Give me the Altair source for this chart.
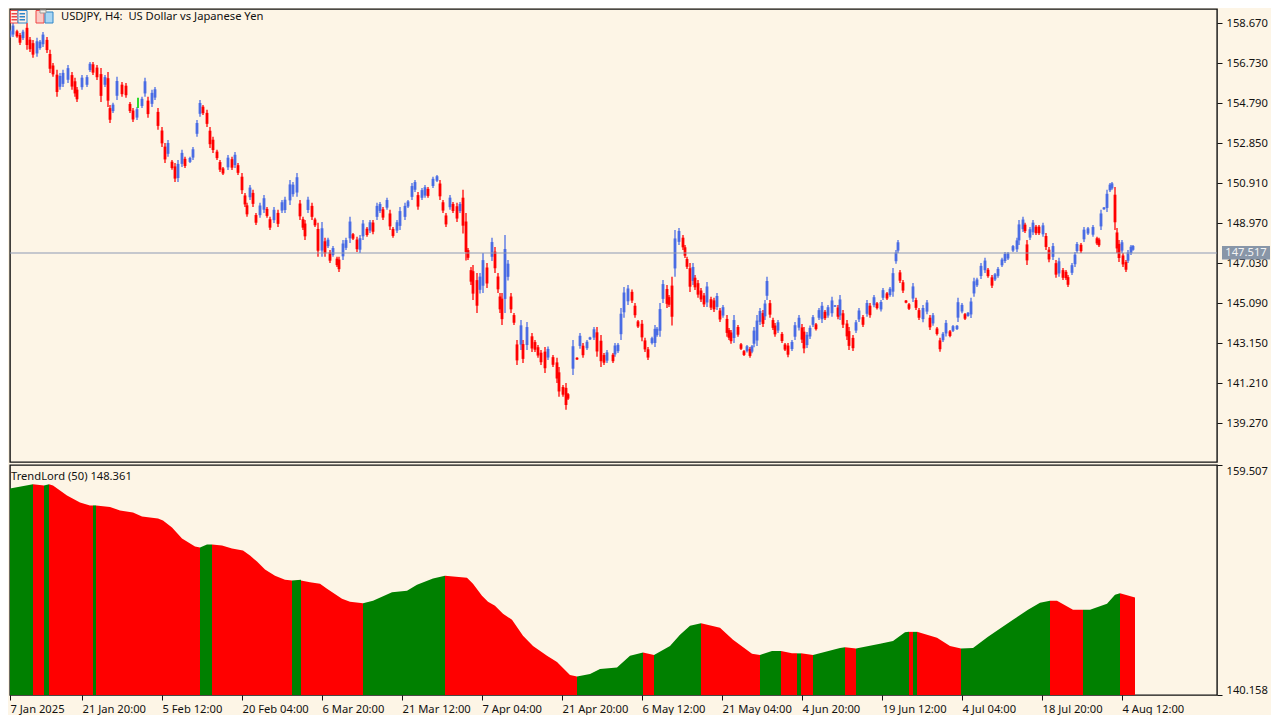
import altair as alt
import pandas as pd

FONT = "Noto Sans"
PAPER = "#FDF5E6"
INK = "#111111"

# ---- main panel: H4 candles (bar number, high, low)
bars = [1,5,8,11,15,18,21,25,28,31,35,38,41,45,48,51,55,58,61,66,70,73,75,80,85,88,91,95,99,103,106,108,111,115,120,124,128,131,135,140,143,146,150,153,156,160,163,166,170,173,176,180,183,188,191,195,198,201,205,208,211,215,218,221,226,230,233,236,240,243,245,248,251,254,258,262,265,268,272,276,280,283,288,291,295,298,301,303,306,310,313,316,320,323,326,328,331,335,337,341,344,348,351,355,358,361,365,368,371,375,378,381,385,388,391,395,398,403,406,410,413,416,420,423,426,431,435,438,441,444,448,451,455,458,461,464,466,469,471,475,478,481,485,490,493,496,498,500,503,506,509,512,515,519,521,525,530,533,536,539,543,546,551,555,557,561,564,566,569,571,575,578,581,585,588,592,595,599,602,605,611,613,616,619,622,626,630,633,636,640,643,646,650,653,655,658,661,665,667,670,673,677,681,683,685,688,691,693,696,699,702,705,709,712,715,718,721,725,727,729,732,736,739,742,745,748,750,752,755,758,761,763,765,768,771,773,776,780,783,786,790,793,797,800,802,805,808,811,814,817,820,823,826,830,833,836,838,841,845,847,851,854,857,861,865,868,872,875,879,881,885,888,891,894,896,898,901,904,907,911,914,917,921,925,928,931,935,938,941,944,948,951,955,956,960,963,966,969,972,975,979,983,986,990,993,996,1000,1003,1006,1011,1015,1017,1021,1023,1025,1028,1031,1034,1037,1041,1044,1047,1051,1054,1057,1061,1064,1066,1070,1073,1075,1079,1082,1086,1091,1095,1097,1099,1102,1105,1108,1110,1113,1115,1117,1120,1121,1124,1126,1129,1131]
highs = [157.95,158.34,158.34,158.67,158.34,158.19,158.34,158.67,157.99,157.85,157.95,157.85,158.24,157.99,157.37,156.73,156.40,156.25,156.40,156.64,156.30,156.01,155.57,156.15,156.15,156.78,156.78,156.64,156.49,156.15,156.30,154.70,154.80,156.06,155.81,155.76,154.84,154.55,154.60,155.09,156.01,155.09,155.43,155.57,154.55,153.63,152.85,153.00,152.03,151.88,152.03,152.52,152.18,152.18,152.66,153.97,154.94,154.70,154.46,153.63,153.15,152.52,152.03,151.69,152.27,152.18,152.42,151.88,151.40,150.43,149.95,150.82,150.58,149.46,149.95,150.33,149.75,149.27,149.75,149.61,150.09,150.24,151.06,150.96,151.40,150.09,149.27,149.12,150.24,149.95,149.22,148.98,149.02,148.25,148.25,147.66,147.85,147.33,147.33,148.15,148.25,149.27,148.49,148.30,148.39,149.12,148.78,149.12,149.12,149.95,149.99,149.75,150.19,149.61,148.78,149.12,149.75,149.95,150.09,150.91,151.06,150.48,150.67,150.82,150.72,151.21,151.30,151.06,150.09,149.46,150.33,149.99,149.95,149.99,150.58,149.46,147.76,146.84,146.94,146.55,146.55,147.52,147.03,148.25,147.81,146.55,145.58,145.58,148.39,147.18,145.58,144.61,143.30,144.27,143.30,144.17,143.64,143.30,143.06,142.81,142.96,142.98,142.57,142.43,141.99,141.12,141.21,140.73,141.21,143.30,142.33,143.64,143.15,142.81,143.45,143.93,143.93,143.54,142.67,142.81,142.67,143.15,143.15,144.85,145.87,145.97,145.09,145.09,144.27,144.27,143.40,142.96,143.45,144.03,143.93,145.09,146.21,145.97,145.48,146.36,148.63,148.73,148.39,147.91,147.33,147.03,147.03,146.45,146.21,145.82,145.58,146.11,145.39,145.34,145.58,144.85,145.0,144.51,143.88,143.78,144.51,144.03,143.15,142.81,143.06,142.96,143.06,143.93,144.51,144.85,144.75,145.24,146.36,145.24,144.37,144.12,144.27,143.69,143.15,143.15,143.30,144.17,144.51,144.07,143.93,143.69,144.0,144.51,144.12,144.85,145.14,144.75,145.0,145.39,144.99,145.0,145.48,144.75,144.27,143.93,143.54,144.27,144.85,144.51,145.24,145.09,145.48,145.14,145.24,145.82,145.63,145.87,146.79,147.66,148.15,146.69,146.21,145.24,145.09,146.06,145.34,144.85,145.0,145.24,144.51,144.61,143.93,143.40,143.69,144.27,143.78,144.03,144.03,145.34,145.09,144.61,144.66,145.34,146.31,146.31,147.03,147.28,146.79,146.45,146.55,146.84,147.28,147.57,147.57,147.91,148.25,149.12,149.27,148.98,148.15,148.78,149.12,148.88,148.88,148.98,148.49,147.81,148.0,147.18,147.28,146.79,146.69,146.45,147.03,147.57,148.05,148.0,148.78,148.78,148.88,148.30,148.25,149.61,149.61,150.58,150.91,150.96,150.72,148.73,148.15,148.15,147.52,147.18,147.66,147.91,147.91]
lows = [157.46,157.71,157.95,157.99,157.95,157.61,157.85,157.37,157.27,156.98,157.03,157.37,157.51,157.22,156.25,156.06,155.09,155.43,155.57,155.76,155.43,155.09,154.84,155.43,155.57,156.30,156.15,155.91,154.84,155.57,154.60,153.82,154.31,154.94,155.09,155.04,154.31,153.87,153.97,154.55,155.09,154.07,154.60,154.94,153.49,152.66,151.88,152.18,151.55,150.96,150.96,151.69,151.64,151.88,152.03,153.15,154.12,154.21,153.63,152.61,152.37,152.03,151.45,151.30,151.54,151.54,151.64,151.30,150.38,149.75,149.27,150.09,149.75,148.88,149.22,149.46,149.22,148.63,148.97,148.78,149.46,149.46,149.85,150.24,150.24,149.12,148.63,148.15,149.46,149.12,148.78,147.33,147.33,147.33,147.76,147.03,147.33,146.84,146.60,147.18,147.66,148.0,148.15,147.57,147.52,148.15,148.30,148.49,148.42,149.12,149.46,149.12,149.61,148.63,148.25,148.49,148.63,149.12,149.70,150.09,150.48,149.61,150.09,150.19,150.19,150.67,150.96,150.09,149.46,148.78,149.61,149.46,149.02,149.46,148.46,147.15,147.18,145.97,145.24,144.61,145.55,145.58,145.82,147.13,146.55,145.58,144.61,144.03,144.61,146.18,144.61,144.03,142.09,142.81,142.18,142.81,142.72,142.72,142.43,142.09,141.70,142.33,141.99,141.21,140.54,140.54,139.91,140.39,141.21,141.60,142.46,142.87,142.43,143.30,143.30,143.30,142.48,141.99,142.09,142.18,142.18,142.48,142.67,143.30,144.37,145.0,145.75,144.37,143.88,143.24,142.72,142.33,143.08,142.96,143.45,143.45,145.09,144.85,144.90,144.0,146.36,147.91,147.66,147.27,146.74,145.63,145.97,145.72,145.34,145.14,144.90,144.90,144.75,144.66,144.75,144.17,144.37,143.45,143.30,143.12,143.15,143.45,142.81,142.52,142.69,142.43,142.66,142.94,143.0,144.03,143.93,144.27,145.24,144.37,143.78,143.45,143.64,143.15,142.76,142.46,142.76,143.30,143.76,143.15,142.66,142.91,143.35,143.93,143.76,144.27,144.12,144.27,144.37,144.42,144.90,144.30,144.27,143.88,143.30,142.81,142.76,143.64,144.17,143.93,144.42,144.37,144.88,144.78,144.68,145.24,145.24,145.39,145.39,147.0,147.52,146.06,145.58,145.08,144.75,145.14,144.75,144.27,144.16,144.55,143.78,143.99,143.51,142.73,143.20,143.47,143.43,143.68,143.78,144.17,144.59,144.27,144.42,144.36,145.39,145.87,146.26,146.55,146.31,145.82,146.16,146.31,146.84,147.03,147.18,147.57,147.57,147.91,148.54,148.49,146.94,148.15,148.39,148.39,148.39,148.3,147.66,147.07,147.18,146.31,146.36,146.21,146.21,145.87,146.45,146.84,147.52,147.52,148.05,148.39,148.30,147.91,147.81,148.63,149.75,149.51,150.48,150.58,148.63,147.52,147.08,147.52,146.84,146.60,147.03,147.42,147.62]
green_bar = [136]
green_high = [155.04]
green_low = [154.55]

# ---- price axis
price_ticks = [158.67,156.73,154.79,152.85,150.91,148.97,147.03,145.09,143.15,141.21,139.27]
last_price = [147.517]

# ---- time axis: one label every 80 bars
time_labels = ["7 Jan 2025","21 Jan 20:00","5 Feb 12:00","20 Feb 04:00","6 Mar 20:00","21 Mar 12:00","7 Apr 04:00","21 Apr 20:00","6 May 12:00","21 May 04:00","4 Jun 20:00","19 Jun 12:00","4 Jul 04:00","18 Jul 20:00","4 Aug 12:00"]
time_bars = [8,80,160,240,320,400,480,560,640,720,800,880,960,1040,1120]

# ---- TrendLord (50): state, bars, values for each run of one colour
trend_runs = [
 ("up",[0,6,31],[157.46,157.5,157.88]),
 ("down",[31,42],[157.88,157.79]),
 ("up",[42,47],[157.79,157.88]),
 ("down",[47,51,58,65,78,88,91],[157.88,157.79,157.37,156.95,156.36,156.11,156.11]),
 ("up",[91,94],[156.11,156.11]),
 ("down",[94,108,118,131,140,156,161,170,180,193,198],[156.11,155.98,155.68,155.52,155.18,155.01,154.84,154.25,153.32,152.65,152.56]),
 ("up",[198,205,210],[152.56,152.81,152.81]),
 ("down",[210,220,230,241,248,255,263,273,283,290],[152.81,152.73,152.48,152.31,151.89,151.38,150.71,150.2,149.86,149.78]),
 ("up",[290,299],[149.78,149.86]),
 ("down",[299,308,318,325,340,348,361],[149.78,149.65,149.52,149.1,148.26,148.01,147.88]),
 ("up",[361,371,390,405,415,431,443],[147.88,148.09,148.81,148.93,149.44,149.95,150.2]),
 ("down",[443,465,471,480,486,493,501,510,521,531,545,555,568,575],[150.2,150.03,149.52,148.51,148.01,147.67,147.0,146.49,145.14,144.29,143.45,142.94,141.85,141.72]),
 ("up",[575,588,598,615,628,641],[141.72,141.93,142.35,142.48,143.45,143.74]),
 ("down",[641,652],[143.74,143.53]),
 ("up",[652,668,678,688,699],[143.53,144.29,145.22,145.98,146.19]),
 ("down",[699,718,731,750,758],[146.19,145.81,144.8,143.62,143.53]),
 ("up",[758,770,779],[143.53,143.87,143.87]),
 ("down",[779,790,795],[143.87,143.66,143.66]),
 ("up",[795,799],[143.66,143.66]),
 ("down",[799,811],[143.66,143.53]),
 ("up",[811,838,843],[143.53,144.12,144.17]),
 ("down",[843,854],[144.17,144.08]),
 ("up",[854,878,891,903,907],[144.08,144.46,144.71,145.43,145.47]),
 ("down",[907,911],[145.47,145.47]),
 ("up",[911,915],[145.47,145.47]),
 ("down",[915,935,948,959],[145.47,144.97,144.29,144.08]),
 ("up",[959,971,986,1011,1026,1038,1048],[144.08,144.12,145.05,146.49,147.33,147.92,148.09]),
 ("down",[1048,1055,1071,1081],[148.09,148.09,147.33,147.33]),
 ("up",[1081,1088,1105,1113,1118],[147.33,147.33,147.84,148.6,148.72]),
 ("down",[1118,1133],[148.72,148.36]),
]
trend_ticks = [159.507, 140.158]

# ---- build tables
candles = pd.DataFrame({"bar": bars, "high": highs, "low": lows})
mid = (candles["high"] + candles["low"]) / 2
candles["dir"] = ["rise" if m > p else "fall" for m, p in zip(mid, mid.shift(1).fillna(mid.iloc[0]))]
span = candles["high"] - candles["low"]
candles["top"] = candles["high"] - span * 0.18
candles["bot"] = candles["low"] + span * 0.18
special = pd.DataFrame({"bar": green_bar, "high": green_high, "low": green_low})
trend = pd.DataFrame(
    [{"run": i, "state": s, "bar": b, "value": v}
     for i, (s, bs, vs) in enumerate(trend_runs) for b, v in zip(bs, vs)]
)

OX, OY = 10, 9   # where the plot area's corner lands on the page
XDOM = [8, 1215]
W = 1207
x = alt.X("bar:Q", scale=alt.Scale(domain=XDOM, nice=False, zero=False), axis=None)
yscale = alt.Scale(domain=[137.38, 159.35], nice=False, zero=False)
yaxis = alt.Axis(orient="right", values=price_ticks, format=".3f", title=None, grid=False,
                 tickSize=5, tickColor=INK, labelPadding=4, domain=False,
                 labelColor=INK, labelFont=FONT, labelFontSize=11.2)
candle_colors = alt.Scale(domain=["rise", "fall"], range=["#4A6CE4", "#FF0000"])

wick = alt.Chart(candles).mark_rule(strokeWidth=1.5, clip=True, opacity=0.85).encode(
    x=x, y=alt.Y("low:Q", scale=yscale, axis=yaxis), y2="high:Q",
    color=alt.Color("dir:N", scale=candle_colors, legend=None))
body = alt.Chart(candles).mark_rule(strokeWidth=2.8, clip=True).encode(
    x=x, y=alt.Y("bot:Q", scale=yscale, axis=yaxis), y2="top:Q",
    color=alt.Color("dir:N", scale=candle_colors, legend=None))
lime = alt.Chart(special).mark_rule(strokeWidth=1.8, color="#18D818").encode(
    x=x, y=alt.Y("low:Q", scale=yscale, axis=yaxis), y2="high:Q")

last = last_price[0]
pline = alt.Chart(pd.DataFrame({"p": last_price})).mark_rule(color="#8E9AB4", strokeWidth=1.2).encode(
    y=alt.Y("p:Q", scale=yscale, axis=yaxis))
pbox = alt.Chart(pd.DataFrame({"a": [last + 0.34], "b": [last - 0.32]})).mark_rect(color="#8896A8").encode(
    x=alt.value(1222 - OX), x2=alt.value(1270 - OX),
    y=alt.Y("a:Q", scale=yscale, axis=yaxis), y2="b:Q")
ptext = alt.Chart(pd.DataFrame({"p": last_price, "t": ["147.517"]})).mark_text(
    font=FONT, fontSize=11.2, color="#F4F4F4", align="center", baseline="middle").encode(
    x=alt.value(1246 - OX), y=alt.Y("p:Q", scale=yscale, axis=yaxis), text="t:N")

def label(text, px, py, size=11.2):
    return alt.Chart(pd.DataFrame({"t": [text]})).mark_text(
        font=FONT, fontSize=size, color=INK, align="left", baseline="middle").encode(
        x=alt.value(px), y=alt.value(py), text="t:N")

def box(x1, y1, x2, y2, fill, stroke=None):
    kw = {"color": fill}
    if stroke:
        kw.update(stroke=stroke, strokeWidth=1)
    return alt.Chart(pd.DataFrame({"k": [0]})).mark_rect(**kw).encode(
        x=alt.value(x1 - OX), x2=alt.value(x2 - OX), y=alt.value(y1 - OY), y2=alt.value(y2 - OY))

RED, BLUE = "#EE4444", "#2F86C8"
icons = [
    box(10.5, 10.5, 18, 23, "#FDEFE6", RED), box(18, 10.5, 27, 23, "#FDEFE6", BLUE),
    box(11.5, 13, 17, 14.5, RED), box(11.5, 16, 17, 17.5, RED), box(11.5, 19, 17, 20.5, RED),
    box(19.5, 13, 25, 14.5, BLUE), box(19.5, 16, 25, 17.5, BLUE), box(19.5, 19, 25, 20.5, BLUE),
    box(36, 10.5, 44, 23, "#FBC9C4", RED), box(45, 12, 53, 23, "#A9D6F3", BLUE),
    box(40, 10, 46, 13, "#F4F0E8", "#999999"),
]

title_mark = label("USDJPY, H4:\u00a0 US Dollar vs Japanese Yen", 61 - OX, 17 - OY)

top = alt.layer(wick, body, lime, pline, pbox, ptext, title_mark, *icons).properties(width=W, height=453)

# ---- lower panel
xb = alt.X("bar:Q", scale=alt.Scale(domain=XDOM, nice=False, zero=False),
           axis=alt.Axis(values=time_bars, title=None, grid=False, tickSize=5, tickColor=INK,
                         domain=False, labelAlign="left", labelPadding=3, labelFlush=False,
                         labelOverlap=False, labelFont=FONT, labelFontSize=11.2, labelColor=INK,
                         labelExpr="{" + ",".join(f"'{b}':'{t}'" for b, t in zip(time_bars, time_labels)) + "}[datum.value]"))
yb_scale = alt.Scale(domain=[140.158, 159.507], nice=False, zero=False)
yb = alt.Y("value:Q", scale=yb_scale,
           axis=alt.Axis(orient="right", values=trend_ticks, format=".3f", title=None, grid=False,
                         tickSize=5, tickColor=INK, labelPadding=4, domain=False, labelFlush=True,
                         labelColor=INK, labelFont=FONT, labelFontSize=11.2))
area = alt.Chart(trend).mark_area(clip=True, interpolate="linear").encode(
    x=xb, y=yb, y2=alt.Y2(datum=140.158),
    detail="run:N",
    color=alt.Color("state:N", scale=alt.Scale(domain=["up", "down"], range=["#008000", "#FF0000"]), legend=None))
bottom = alt.layer(area, label("TrendLord (50) 148.361", 1, 477 - 465)).properties(width=W, height=230)

chart = alt.vconcat(top, bottom, spacing=0).properties(padding=0, background=PAPER).configure_view(
    stroke=INK, strokeWidth=1.4, fill=PAPER).resolve_scale(x="independent", y="independent", color="independent")

chart.save("out.html", embed_options={"renderer": "svg", "actions": False})
